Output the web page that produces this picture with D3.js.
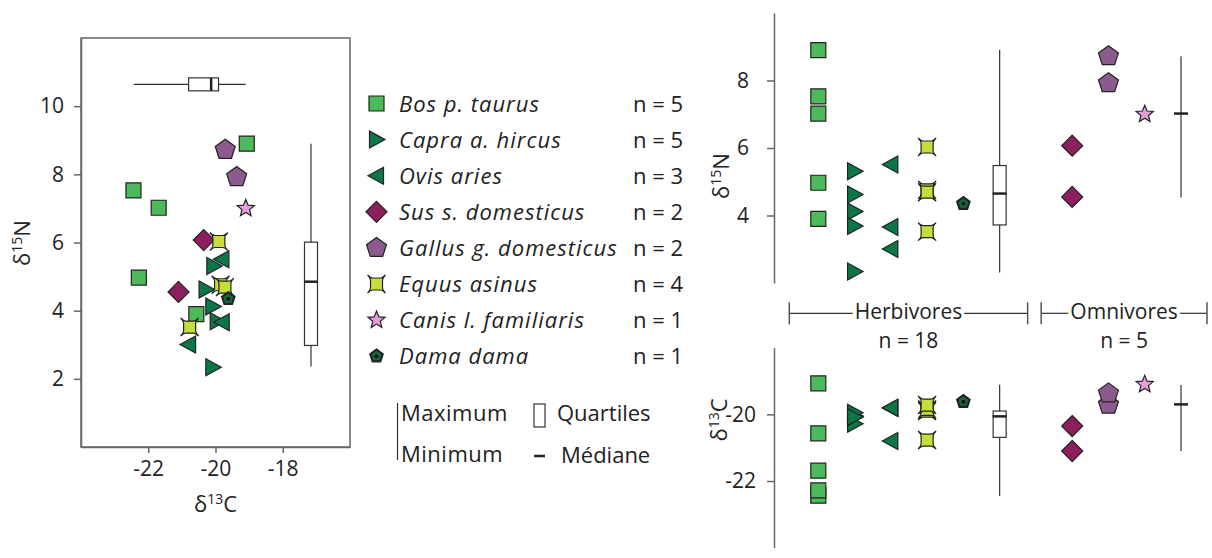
<!DOCTYPE html>
<html>
<head>
<meta charset="utf-8">
<script src="https://cdn.jsdelivr.net/npm/d3@7"></script>
<style>
  body { margin: 0; background: #fff; }
  svg { font-family: "Open Sans", Lato, sans-serif; }
  .axis path, .axis line { stroke: #666; stroke-width: 1.5; }
  .axis text { fill: #222; font-size: 21px; font-family: "Open Sans", sans-serif; }
</style>
</head>
<body>
<div id="chart"></div>
<script>
// ---- data ----
const species = ['Bos p. taurus', 'Capra a. hircus', 'Ovis aries', 'Sus s. domesticus',
                 'Gallus g. domesticus', 'Equus asinus', 'Canis l. familiaris', 'Dama dama'];
const counts = [5, 5, 3, 2, 2, 4, 1, 1];
const bosC = [-19.07, -22.44, -21.69, -22.28, -20.57];
const bosN = [8.90, 7.53, 7.02, 4.97, 3.90];
const capraC = [-20.05, -20.28, -20.08, -19.95, -20.08];
const capraN = [5.31, 4.62, 4.12, 3.69, 2.34];
const ovisC = [-19.81, -19.80, -20.80];
const ovisN = [5.51, 3.66, 3.01];
const susC = [-20.35, -21.10];
const susN = [6.07, 4.55];
const gallusC = [-19.71, -19.37];
const gallusN = [8.72, 7.92];
const equusC = [-19.90, -19.85, -19.72, -20.77];
const equusN = [6.03, 4.76, 4.69, 3.52];
const canisC = [-19.10];
const canisN = [7.00];
const damaC = [-19.62];
const damaN = [4.35];

// box stats: [min, q1, median, q3, max]
const allBoxC = [-22.43, -20.80, -20.13, -19.91, -19.10];
const allBoxN = [2.36, 2.98, 4.85, 6.01, 8.90];
const herbBoxN = [2.31, 3.72, 4.65, 5.48, 8.91];
const herbBoxC = [-22.45, -20.69, -20.06, -19.90, -19.11];
const omniBoxN = [4.53, null, 7.02, null, 8.72];
const omniBoxC = [-21.10, null, -19.70, null, -19.12];

const groups = ['Herbivores', 'Omnivores'];
const groupN = [18, 5];

const leftXTicks = [-22, -20, -18];
const leftYTicks = [2, 4, 6, 8, 10];
const rightNTicks = [4, 6, 8];
const rightCTicks = [-22, -20];

// ---- styles ----
const colors = ['#4cb95a', '#0b7747', '#0b7747', '#8e1f5e', '#8c5b8d', '#c8dc3c', '#e69fd6', '#136b3c'];
const seriesC = [bosC, capraC, ovisC, susC, gallusC, equusC, canisC, damaC];
const seriesN = [bosN, capraN, ovisN, susN, gallusN, equusN, canisN, damaN];

function starPath(ro, ri) {
    let p = [];
    for (let i = 0; i < 10; i++) {
        let a = -Math.PI / 2 + i * Math.PI / 5, r = i % 2 ? ri : ro;
        p.push([r * Math.cos(a), r * Math.sin(a)]);
    }
    return 'M' + p.map(d => d.join(',')).join('L') + 'Z';
}
function polyPath(n, r, rot) {
    let p = [];
    for (let i = 0; i < n; i++) {
        let a = rot + i * 2 * Math.PI / n;
        p.push([r * Math.cos(a), r * Math.sin(a)]);
    }
    return 'M' + p.map(d => d.join(',')).join('L') + 'Z';
}
// square body with spiky corners (Equus)
const spikySquare = 'M-9,-9Q-6,-6 -4,-6L4,-6Q6,-6 9,-9Q6,-6 6,-4L6,4Q6,6 9,9' +
    'Q6,6 4,6L-4,6Q-6,6 -9,9Q-6,6 -6,4L-6,-4Q-6,-6 -9,-9Z';
const shapes = [
    'M-7.5,-7.5H7.5V7.5H-7.5Z',                 // square
    'M-7,-8.5L8.5,0L-7,8.5Z',                   // right triangle
    'M7,-8.5L-8.5,0L7,8.5Z',                    // left triangle
    'M0,-10.5L10.5,0L0,10.5L-10.5,0Z',          // diamond
    polyPath(5, 10.5, -Math.PI / 2),            // pentagon
    spikySquare,
    starPath(9, 4),                             // star
    polyPath(5, 6.5, -Math.PI / 2)              // small pentagon
];

const svg = d3.select('#chart').append('svg')
    .attr('width', 1212)
    .attr('height', 558);

function drawMarker(g, i, x, y) {
    g.append('path')
        .attr('d', shapes[i])
        .attr('transform', 'translate(' + x + ',' + y + ')')
        .attr('fill', colors[i])
        .attr('stroke', '#222')
        .attr('stroke-width', i === 7 ? 2.2 : 1.2);
    if (i === 7) {
        g.append('circle').attr('cx', x).attr('cy', y).attr('r', 2).attr('fill', '#111');
    }
}

function deltaLabel(g, tr, iso, el) {
    g.append('text')
        .attr('transform', tr)
        .attr('text-anchor', 'middle').attr('font-size', 22).attr('fill', '#222')
        .html('δ<tspan font-size="14" dy="-8">' + iso + '</tspan><tspan dy="8">' + el + '</tspan>');
}

//=============== Left scatter panel ===============
const left = { x0: 81, x1: 350, y0: 38, y1: 447 };
const xC = d3.scaleLinear().domain([-24, -16]).range([left.x0, left.x1]);
const yN = d3.scaleLinear().domain([0, 12]).range([left.y1, left.y0]);

const lp = svg.append('g');
lp.append('g').attr('class', 'axis')
    .attr('transform', 'translate(0,' + left.y1 + ')')
    .call(d3.axisBottom(xC).tickValues(leftXTicks).tickFormat(d => String(d)).tickSize(6).tickSizeOuter(0).tickPadding(8));
lp.append('g').attr('class', 'axis')
    .attr('transform', 'translate(' + left.x0 + ',0)')
    .call(d3.axisLeft(yN).tickValues(leftYTicks).tickFormat(d => String(d)).tickSize(7).tickSizeOuter(0).tickPadding(10));
lp.append('rect')
    .attr('x', left.x0).attr('y', left.y0)
    .attr('width', left.x1 - left.x0).attr('height', left.y1 - left.y0)
    .attr('fill', 'none').attr('stroke', '#666').attr('stroke-width', 1.5);

// horizontal box for d13C
const hbY = yN(10.64), bh = 6.5;
lp.append('line').attr('x1', xC(allBoxC[0])).attr('x2', xC(allBoxC[4]))
    .attr('y1', hbY).attr('y2', hbY).attr('stroke', '#333').attr('stroke-width', 1.2);
lp.append('rect').attr('x', xC(allBoxC[1])).attr('y', hbY - bh)
    .attr('width', xC(allBoxC[3]) - xC(allBoxC[1])).attr('height', 2 * bh)
    .attr('fill', '#fff').attr('stroke', '#333').attr('stroke-width', 1.2);
lp.append('line').attr('x1', xC(allBoxC[2])).attr('x2', xC(allBoxC[2]))
    .attr('y1', hbY - bh).attr('y2', hbY + bh).attr('stroke', '#222').attr('stroke-width', 2.5);

// vertical box for d15N
const vbX = xC(-17.16);
lp.append('line').attr('x1', vbX).attr('x2', vbX)
    .attr('y1', yN(allBoxN[0])).attr('y2', yN(allBoxN[4])).attr('stroke', '#333').attr('stroke-width', 1.2);
lp.append('rect').attr('x', vbX - bh).attr('y', yN(allBoxN[3]))
    .attr('width', 2 * bh).attr('height', yN(allBoxN[1]) - yN(allBoxN[3]))
    .attr('fill', '#fff').attr('stroke', '#333').attr('stroke-width', 1.2);
lp.append('line').attr('x1', vbX - bh).attr('x2', vbX + bh)
    .attr('y1', yN(allBoxN[2])).attr('y2', yN(allBoxN[2])).attr('stroke', '#222').attr('stroke-width', 2.5);

species.forEach((s, i) => {
    seriesC[i].forEach((c, j) => drawMarker(lp, i, xC(c), yN(seriesN[i][j])));
});

deltaLabel(lp, 'translate(30,243) rotate(-90)', 15, 'N');
deltaLabel(lp, 'translate(' + xC(-20) + ',512)', 13, 'C');

//=============== Legend ===============
const lg = svg.append('g');
species.forEach((s, i) => {
    const y = 103.5 + i * 36.1;
    drawMarker(lg, i, 376.5, y);
    lg.append('text').attr('x', 399).attr('y', y + 8)
        .attr('font-size', 22).attr('font-style', 'italic').attr('letter-spacing', 1)
        .attr('fill', '#222').text(s);
    lg.append('text').attr('x', 633).attr('y', y + 8)
        .attr('font-size', 22).attr('fill', '#222').text('n = ' + counts[i]);
});
lg.append('line').attr('x1', 397.5).attr('x2', 397.5).attr('y1', 403).attr('y2', 460)
    .attr('stroke', '#333').attr('stroke-width', 1.2);
lg.append('text').attr('x', 401).attr('y', 421).attr('font-size', 22).attr('letter-spacing', 0.5).attr('fill', '#222').text('Maximum');
lg.append('text').attr('x', 401).attr('y', 462).attr('font-size', 22).attr('letter-spacing', 0.5).attr('fill', '#222').text('Minimum');
lg.append('rect').attr('x', 534).attr('y', 404).attr('width', 11).attr('height', 23)
    .attr('fill', '#fff').attr('stroke', '#333').attr('stroke-width', 1.2);
lg.append('text').attr('x', 557).attr('y', 421).attr('font-size', 22).attr('fill', '#222').text('Quartiles');
lg.append('line').attr('x1', 534).attr('x2', 545).attr('y1', 456).attr('y2', 456)
    .attr('stroke', '#222').attr('stroke-width', 2.5);
lg.append('text').attr('x', 561).attr('y', 463).attr('font-size', 22).attr('fill', '#222').text('Médiane');

//=============== Right panels ===============
const cols = ['Bos', 'Capra', 'Ovis', 'Equus', 'Dama', 'HerbBox', 'gap', 'Sus', 'Gallus', 'Canis', 'OmniBox'];
const colOf = [0, 1, 2, 7, 8, 3, 9, 4];
const xCol = d3.scalePoint().domain(cols).range([818.3, 1181]);
const axX = 774;
const yTop = d3.scaleLinear().domain([2, 10]).range([283, 13]);
const yBot = d3.scaleLinear().domain([-24, -18]).range([547.7, 347.7]);

const rp = svg.append('g');
rp.append('g').attr('class', 'axis').attr('transform', 'translate(' + axX + ',0)')
    .call(d3.axisLeft(yTop).tickValues(rightNTicks).tickFormat(d => String(d)).tickSize(7).tickSizeOuter(0).tickPadding(18));
rp.append('g').attr('class', 'axis').attr('transform', 'translate(' + axX + ',0)')
    .call(d3.axisLeft(yBot).tickValues(rightCTicks).tickFormat(d => String(d)).tickSize(7).tickSizeOuter(0).tickPadding(11));

function drawBox(g, x, y, st) {
    g.append('line').attr('x1', x).attr('x2', x).attr('y1', y(st[0])).attr('y2', y(st[4]))
        .attr('stroke', '#333').attr('stroke-width', 1.2);
    if (st[1] != null) {
        g.append('rect').attr('x', x - 6.5).attr('y', y(st[3]))
            .attr('width', 13).attr('height', y(st[1]) - y(st[3]))
            .attr('fill', '#fff').attr('stroke', '#333').attr('stroke-width', 1.2);
    }
    g.append('line').attr('x1', x - 7).attr('x2', x + 7).attr('y1', y(st[2])).attr('y2', y(st[2]))
        .attr('stroke', '#222').attr('stroke-width', 2.5);
}
drawBox(rp, xCol('HerbBox'), yTop, herbBoxN);
drawBox(rp, xCol('OmniBox'), yTop, omniBoxN);
drawBox(rp, xCol('HerbBox'), yBot, herbBoxC);
drawBox(rp, xCol('OmniBox'), yBot, omniBoxC);

species.forEach((s, i) => {
    const x = xCol(cols[colOf[i]]);
    seriesN[i].forEach(v => drawMarker(rp, i, x, yTop(v)));
    seriesC[i].forEach(v => drawMarker(rp, i, x, yBot(v)));
});

deltaLabel(rp, 'translate(729,176) rotate(-90)', 15, 'N');
deltaLabel(rp, 'translate(727,420) rotate(-90)', 13, 'C');

// group brackets
const brY = 313.3;
const brackets = [
    [xCol('Bos') - 29, xCol('HerbBox') + 28],
    [xCol('Sus') - 31, xCol('OmniBox') + 26]
];
groups.forEach((name, i) => {
    const [a, b] = brackets[i];
    const cx = (a + b) / 2;
    const t = rp.append('text').attr('x', cx).attr('y', 318.5)
        .attr('text-anchor', 'middle').attr('font-size', 21).attr('fill', '#222').text(name);
    const w = t.node().getComputedTextLength();
    rp.append('line').attr('x1', a).attr('x2', cx - w / 2 - 2).attr('y1', brY).attr('y2', brY)
        .attr('stroke', '#333').attr('stroke-width', 1.2);
    rp.append('line').attr('x1', cx + w / 2 + 2).attr('x2', b).attr('y1', brY).attr('y2', brY)
        .attr('stroke', '#333').attr('stroke-width', 1.2);
    [a, b].forEach(x => rp.append('line').attr('x1', x).attr('x2', x).attr('y1', brY - 11).attr('y2', brY + 11)
        .attr('stroke', '#555').attr('stroke-width', 1.5));
    rp.append('text').attr('x', cx).attr('y', 347.5)
        .attr('text-anchor', 'middle').attr('font-size', 21).attr('fill', '#222').text('n = ' + groupN[i]);
});
</script>
</body>
</html>
